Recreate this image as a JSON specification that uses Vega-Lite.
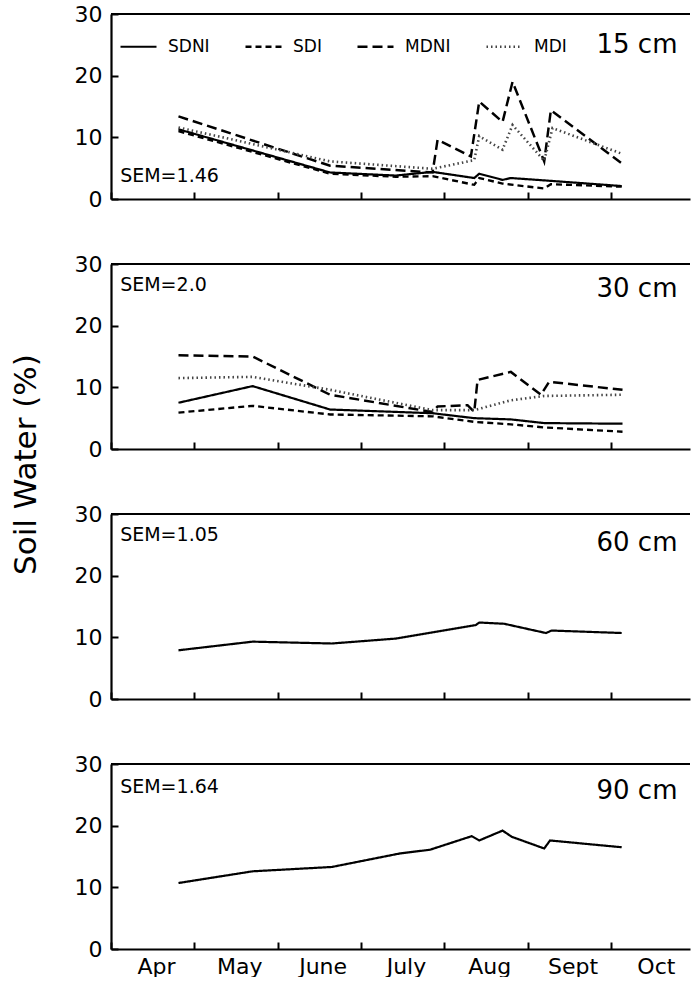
{
  "$schema": "https://vega.github.io/schema/vega-lite/v6.json",
  "padding": {"left": 10, "top": 3, "right": 0, "bottom": 0},
  "background": "white",
  "config": {
    "font": "DejaVu Sans",
    "view": {"stroke": null},
    "axis": {"grid": false, "domainColor": "black", "tickColor": "black", "domainWidth": 2.2, "tickWidth": 2, "labelColor": "black", "labelFont": "DejaVu Sans"}
  },
  "datasets": {
    "sw": [
      {"d": "15 cm", "t": "SDNI", "m": 4.81, "v": 11.3},
      {"d": "15 cm", "t": "SDNI", "m": 6.63, "v": 4.3},
      {"d": "15 cm", "t": "SDNI", "m": 7.42, "v": 3.8},
      {"d": "15 cm", "t": "SDNI", "m": 7.86, "v": 4.4},
      {"d": "15 cm", "t": "SDNI", "m": 8.36, "v": 3.4},
      {"d": "15 cm", "t": "SDNI", "m": 8.42, "v": 4.1},
      {"d": "15 cm", "t": "SDNI", "m": 8.70, "v": 3.1},
      {"d": "15 cm", "t": "SDNI", "m": 8.80, "v": 3.4},
      {"d": "15 cm", "t": "SDNI", "m": 9.22, "v": 3.0},
      {"d": "15 cm", "t": "SDNI", "m": 10.13, "v": 2.1},
      {"d": "15 cm", "t": "SDI", "m": 4.81, "v": 11.0},
      {"d": "15 cm", "t": "SDI", "m": 6.63, "v": 4.1},
      {"d": "15 cm", "t": "SDI", "m": 7.42, "v": 3.6},
      {"d": "15 cm", "t": "SDI", "m": 7.86, "v": 3.7},
      {"d": "15 cm", "t": "SDI", "m": 8.36, "v": 2.3},
      {"d": "15 cm", "t": "SDI", "m": 8.42, "v": 3.4},
      {"d": "15 cm", "t": "SDI", "m": 8.70, "v": 2.5},
      {"d": "15 cm", "t": "SDI", "m": 9.20, "v": 1.7},
      {"d": "15 cm", "t": "SDI", "m": 9.28, "v": 2.4},
      {"d": "15 cm", "t": "SDI", "m": 10.13, "v": 2.0},
      {"d": "15 cm", "t": "MDNI", "m": 4.81, "v": 13.4},
      {"d": "15 cm", "t": "MDNI", "m": 6.63, "v": 5.4},
      {"d": "15 cm", "t": "MDNI", "m": 7.86, "v": 4.3},
      {"d": "15 cm", "t": "MDNI", "m": 7.92, "v": 9.6},
      {"d": "15 cm", "t": "MDNI", "m": 8.32, "v": 6.9},
      {"d": "15 cm", "t": "MDNI", "m": 8.42, "v": 15.8},
      {"d": "15 cm", "t": "MDNI", "m": 8.70, "v": 12.5},
      {"d": "15 cm", "t": "MDNI", "m": 8.82, "v": 19.0},
      {"d": "15 cm", "t": "MDNI", "m": 9.20, "v": 6.1},
      {"d": "15 cm", "t": "MDNI", "m": 9.28, "v": 14.4},
      {"d": "15 cm", "t": "MDNI", "m": 10.14, "v": 5.7},
      {"d": "15 cm", "t": "MDI", "m": 4.81, "v": 11.6},
      {"d": "15 cm", "t": "MDI", "m": 6.63, "v": 6.1},
      {"d": "15 cm", "t": "MDI", "m": 7.86, "v": 4.9},
      {"d": "15 cm", "t": "MDI", "m": 8.36, "v": 6.3},
      {"d": "15 cm", "t": "MDI", "m": 8.42, "v": 10.2},
      {"d": "15 cm", "t": "MDI", "m": 8.70, "v": 8.0},
      {"d": "15 cm", "t": "MDI", "m": 8.82, "v": 12.0},
      {"d": "15 cm", "t": "MDI", "m": 9.20, "v": 6.2},
      {"d": "15 cm", "t": "MDI", "m": 9.30, "v": 11.5},
      {"d": "15 cm", "t": "MDI", "m": 10.14, "v": 7.3},
      {"d": "30 cm", "t": "SDNI", "m": 4.81, "v": 7.5},
      {"d": "30 cm", "t": "SDNI", "m": 5.70, "v": 10.2},
      {"d": "30 cm", "t": "SDNI", "m": 6.63, "v": 6.4},
      {"d": "30 cm", "t": "SDNI", "m": 7.86, "v": 5.8},
      {"d": "30 cm", "t": "SDNI", "m": 8.36, "v": 5.0},
      {"d": "30 cm", "t": "SDNI", "m": 8.80, "v": 4.8},
      {"d": "30 cm", "t": "SDNI", "m": 9.20, "v": 4.2},
      {"d": "30 cm", "t": "SDNI", "m": 10.14, "v": 4.1},
      {"d": "30 cm", "t": "SDI", "m": 4.81, "v": 5.9},
      {"d": "30 cm", "t": "SDI", "m": 5.70, "v": 7.0},
      {"d": "30 cm", "t": "SDI", "m": 6.63, "v": 5.6},
      {"d": "30 cm", "t": "SDI", "m": 7.86, "v": 5.3},
      {"d": "30 cm", "t": "SDI", "m": 8.36, "v": 4.4},
      {"d": "30 cm", "t": "SDI", "m": 8.80, "v": 4.0},
      {"d": "30 cm", "t": "SDI", "m": 9.20, "v": 3.5},
      {"d": "30 cm", "t": "SDI", "m": 10.14, "v": 2.8},
      {"d": "30 cm", "t": "MDNI", "m": 4.81, "v": 15.2},
      {"d": "30 cm", "t": "MDNI", "m": 5.70, "v": 15.0},
      {"d": "30 cm", "t": "MDNI", "m": 6.63, "v": 8.8},
      {"d": "30 cm", "t": "MDNI", "m": 7.86, "v": 6.0},
      {"d": "30 cm", "t": "MDNI", "m": 7.92, "v": 6.9},
      {"d": "30 cm", "t": "MDNI", "m": 8.28, "v": 7.1},
      {"d": "30 cm", "t": "MDNI", "m": 8.36, "v": 6.0},
      {"d": "30 cm", "t": "MDNI", "m": 8.40, "v": 11.2},
      {"d": "30 cm", "t": "MDNI", "m": 8.80, "v": 12.5},
      {"d": "30 cm", "t": "MDNI", "m": 9.16, "v": 8.8},
      {"d": "30 cm", "t": "MDNI", "m": 9.26, "v": 10.9},
      {"d": "30 cm", "t": "MDNI", "m": 10.14, "v": 9.6},
      {"d": "30 cm", "t": "MDI", "m": 4.81, "v": 11.5},
      {"d": "30 cm", "t": "MDI", "m": 5.70, "v": 11.7},
      {"d": "30 cm", "t": "MDI", "m": 6.63, "v": 9.6},
      {"d": "30 cm", "t": "MDI", "m": 7.86, "v": 6.3},
      {"d": "30 cm", "t": "MDI", "m": 8.36, "v": 6.3},
      {"d": "30 cm", "t": "MDI", "m": 8.80, "v": 7.9},
      {"d": "30 cm", "t": "MDI", "m": 9.20, "v": 8.6},
      {"d": "30 cm", "t": "MDI", "m": 10.14, "v": 8.8},
      {"d": "60 cm", "t": "SDNI", "m": 4.81, "v": 7.9},
      {"d": "60 cm", "t": "SDNI", "m": 5.70, "v": 9.3},
      {"d": "60 cm", "t": "SDNI", "m": 6.65, "v": 9.0},
      {"d": "60 cm", "t": "SDNI", "m": 7.42, "v": 9.8},
      {"d": "60 cm", "t": "SDNI", "m": 8.38, "v": 12.0},
      {"d": "60 cm", "t": "SDNI", "m": 8.42, "v": 12.4},
      {"d": "60 cm", "t": "SDNI", "m": 8.72, "v": 12.2},
      {"d": "60 cm", "t": "SDNI", "m": 9.22, "v": 10.7},
      {"d": "60 cm", "t": "SDNI", "m": 9.29, "v": 11.1},
      {"d": "60 cm", "t": "SDNI", "m": 10.13, "v": 10.7},
      {"d": "90 cm", "t": "SDNI", "m": 4.81, "v": 10.7},
      {"d": "90 cm", "t": "SDNI", "m": 5.70, "v": 12.6},
      {"d": "90 cm", "t": "SDNI", "m": 6.65, "v": 13.3},
      {"d": "90 cm", "t": "SDNI", "m": 7.47, "v": 15.5},
      {"d": "90 cm", "t": "SDNI", "m": 7.83, "v": 16.1},
      {"d": "90 cm", "t": "SDNI", "m": 8.33, "v": 18.3},
      {"d": "90 cm", "t": "SDNI", "m": 8.42, "v": 17.6},
      {"d": "90 cm", "t": "SDNI", "m": 8.70, "v": 19.2},
      {"d": "90 cm", "t": "SDNI", "m": 8.81, "v": 18.2},
      {"d": "90 cm", "t": "SDNI", "m": 9.20, "v": 16.3},
      {"d": "90 cm", "t": "SDNI", "m": 9.27, "v": 17.6},
      {"d": "90 cm", "t": "SDNI", "m": 10.13, "v": 16.5}
    ]
  },
  "vconcat": [
    {
      "width": 579, "height": 185,
      "layer": [
        {"data": {"values": [{}]}, "mark": {"type": "rule", "strokeWidth": 2.2, "color": "black"}, "encoding": {"y": {"datum": 30, "type": "quantitative"}}},
        {
          "data": {"name": "sw"},
          "transform": [{"filter": "datum.d === '15 cm'"}],
          "mark": {"type": "line", "clip": true},
          "encoding": {
            "x": {"field": "m", "type": "quantitative", "scale": {"domain": [4, 10.95], "nice": false, "zero": false},
                  "axis": {"title": null, "values": [4,5,6,7,8,9,10], "labels": false, "tickSize": -7}},
            "y": {"field": "v", "type": "quantitative", "scale": {"domain": [0, 30], "nice": false},
                  "axis": {"title": null, "values": [0,10,20,30], "tickSize": -7, "labelFontSize": 22, "labelPadding": 16}},
            "strokeDash": {"field": "t", "type": "nominal", "scale": {"domain": ["SDNI","SDI","MDNI","MDI"], "range": [[1,0],[6,4],[10,5],[1.5,3]]},
                  "legend": {"orient": "none", "legendX": 8, "legendY": 13, "direction": "horizontal", "title": null, "symbolType": "stroke", "symbolSize": 1296, "labelFontSize": 17, "labelOffset": 10, "columnPadding": 30, "labelColor": "black"}},
            "strokeWidth": {"field": "t", "type": "nominal", "scale": {"domain": ["SDNI","SDI","MDNI","MDI"], "range": [2.2, 2.6, 3.8, 1.8]},
                  "legend": {"orient": "none", "legendX": 8, "legendY": 13, "direction": "horizontal", "title": null, "symbolType": "stroke", "symbolSize": 1296, "labelFontSize": 17, "labelOffset": 10, "columnPadding": 30, "labelColor": "black"}},
            "color": {"field": "t", "type": "nominal", "scale": {"domain": ["SDNI","SDI","MDNI","MDI"], "range": ["#000000","#000000","#000000","#444444"]},
                  "legend": {"orient": "none", "legendX": 8, "legendY": 13, "direction": "horizontal", "title": null, "symbolType": "stroke", "symbolSize": 1296, "labelFontSize": 17, "labelOffset": 10, "columnPadding": 30, "labelColor": "black"}}
          }
        },
        {"data": {"values": [{}]}, "mark": {"type": "text", "align": "left", "baseline": "middle", "fontSize": 19, "color": "black"},
         "encoding": {"x": {"datum": 4.11, "type": "quantitative"}, "y": {"datum": 3.7, "type": "quantitative"}, "text": {"value": "SEM=1.46"}}},
        {"data": {"values": [{}]}, "mark": {"type": "text", "align": "right", "baseline": "middle", "fontSize": 26, "color": "black"},
         "encoding": {"x": {"datum": 10.8, "type": "quantitative"}, "y": {"datum": 25.0, "type": "quantitative"}, "text": {"value": "15 cm"}}}
      ]
    },
    {
      "width": 579, "height": 185,
      "layer": [
        {"data": {"values": [{}]}, "mark": {"type": "rule", "strokeWidth": 2.2, "color": "black"}, "encoding": {"y": {"datum": 30, "type": "quantitative"}}},
        {
          "data": {"name": "sw"},
          "transform": [{"filter": "datum.d === '30 cm'"}],
          "mark": {"type": "line", "clip": true},
          "encoding": {
            "x": {"field": "m", "type": "quantitative", "scale": {"domain": [4, 10.95], "nice": false, "zero": false},
                  "axis": {"title": null, "values": [4,5,6,7,8,9,10], "labels": false, "tickSize": -7}},
            "y": {"field": "v", "type": "quantitative", "scale": {"domain": [0, 30], "nice": false},
                  "axis": {"title": "Soil Water (%)", "titleX": -85, "titleY": 200, "titleAngle": 270, "titleAlign": "center", "titleBaseline": "middle", "titleFontSize": 31, "titleFontWeight": "normal", "titleFont": "DejaVu Sans", "titleColor": "black",
                           "values": [0,10,20,30], "tickSize": -7, "labelFontSize": 22, "labelPadding": 16}},
            "strokeDash": {"field": "t", "type": "nominal"},
            "strokeWidth": {"field": "t", "type": "nominal"},
            "color": {"field": "t", "type": "nominal"}
          }
        },
        {"data": {"values": [{}]}, "mark": {"type": "text", "align": "left", "baseline": "middle", "fontSize": 19, "color": "black"},
         "encoding": {"x": {"datum": 4.11, "type": "quantitative"}, "y": {"datum": 26.6, "type": "quantitative"}, "text": {"value": "SEM=2.0"}}},
        {"data": {"values": [{}]}, "mark": {"type": "text", "align": "right", "baseline": "middle", "fontSize": 26, "color": "black"},
         "encoding": {"x": {"datum": 10.8, "type": "quantitative"}, "y": {"datum": 25.9, "type": "quantitative"}, "text": {"value": "30 cm"}}}
      ]
    },
    {
      "width": 579, "height": 185,
      "layer": [
        {"data": {"values": [{}]}, "mark": {"type": "rule", "strokeWidth": 2.2, "color": "black"}, "encoding": {"y": {"datum": 30, "type": "quantitative"}}},
        {
          "data": {"name": "sw"},
          "transform": [{"filter": "datum.d === '60 cm'"}],
          "mark": {"type": "line", "clip": true},
          "encoding": {
            "x": {"field": "m", "type": "quantitative", "scale": {"domain": [4, 10.95], "nice": false, "zero": false},
                  "axis": {"title": null, "values": [4,5,6,7,8,9,10], "labels": false, "tickSize": -7}},
            "y": {"field": "v", "type": "quantitative", "scale": {"domain": [0, 30], "nice": false},
                  "axis": {"title": null, "values": [0,10,20,30], "tickSize": -7, "labelFontSize": 22, "labelPadding": 16}},
            "strokeDash": {"field": "t", "type": "nominal"},
            "strokeWidth": {"field": "t", "type": "nominal"},
            "color": {"field": "t", "type": "nominal"}
          }
        },
        {"data": {"values": [{}]}, "mark": {"type": "text", "align": "left", "baseline": "middle", "fontSize": 19, "color": "black"},
         "encoding": {"x": {"datum": 4.11, "type": "quantitative"}, "y": {"datum": 26.6, "type": "quantitative"}, "text": {"value": "SEM=1.05"}}},
        {"data": {"values": [{}]}, "mark": {"type": "text", "align": "right", "baseline": "middle", "fontSize": 26, "color": "black"},
         "encoding": {"x": {"datum": 10.8, "type": "quantitative"}, "y": {"datum": 25.3, "type": "quantitative"}, "text": {"value": "60 cm"}}}
      ]
    },
    {
      "width": 579, "height": 185,
      "layer": [
        {"data": {"values": [{}]}, "mark": {"type": "rule", "strokeWidth": 2.2, "color": "black"}, "encoding": {"y": {"datum": 30, "type": "quantitative"}}},
        {
          "data": {"name": "sw"},
          "transform": [{"filter": "datum.d === '90 cm'"}],
          "mark": {"type": "line", "clip": true},
          "encoding": {
            "x": {"field": "m", "type": "quantitative", "scale": {"domain": [4, 10.95], "nice": false, "zero": false},
                  "axis": {"title": null, "values": [4,5,6,7,8,9,10], "tickSize": -7, "labelFontSize": 22, "labelPadding": 14, "labelOffset": 45, "labelFlush": false, "labelOverlap": false, "labelBound": false,
                           "labelExpr": "['Apr','May','June','July','Aug','Sept','Oct'][datum.value - 4]"}},
            "y": {"field": "v", "type": "quantitative", "scale": {"domain": [0, 30], "nice": false},
                  "axis": {"title": null, "values": [0,10,20,30], "tickSize": -7, "labelFontSize": 22, "labelPadding": 16}},
            "strokeDash": {"field": "t", "type": "nominal"},
            "strokeWidth": {"field": "t", "type": "nominal"},
            "color": {"field": "t", "type": "nominal"}
          }
        },
        {"data": {"values": [{}]}, "mark": {"type": "text", "align": "left", "baseline": "middle", "fontSize": 19, "color": "black"},
         "encoding": {"x": {"datum": 4.11, "type": "quantitative"}, "y": {"datum": 26.3, "type": "quantitative"}, "text": {"value": "SEM=1.64"}}},
        {"data": {"values": [{}]}, "mark": {"type": "text", "align": "right", "baseline": "middle", "fontSize": 26, "color": "black"},
         "encoding": {"x": {"datum": 10.8, "type": "quantitative"}, "y": {"datum": 25.6, "type": "quantitative"}, "text": {"value": "90 cm"}}}
      ]
    }
  ],
  "spacing": 65,
  "bounds": "flush"
}
